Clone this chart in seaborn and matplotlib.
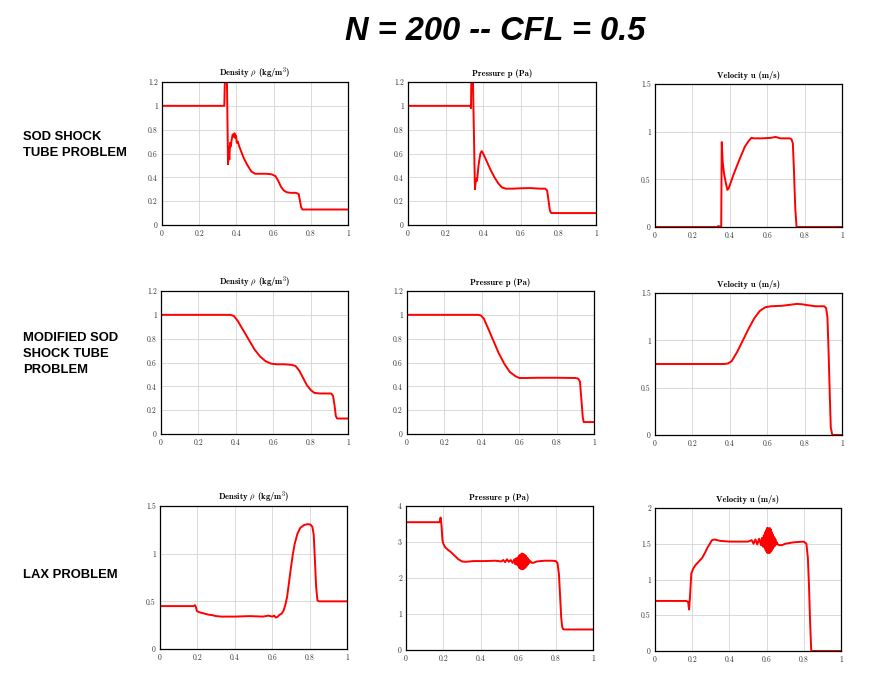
import matplotlib

matplotlib.use("Agg")
import matplotlib.pyplot as plt
import seaborn as sns

# ---- data (x in [0,1]) ----

# SOD shock tube
sod_rho_x = [0, 0.335, 0.340, 0.348, 0.355, 0.358, 0.362, 0.366, 0.370, 0.375, 0.380, 0.385, 0.390,
             0.394, 0.398, 0.402, 0.408, 0.415, 0.425, 0.44, 0.46, 0.48, 0.50, 0.52, 0.56, 0.59,
             0.61, 0.625, 0.64, 0.655, 0.67, 0.69, 0.72, 0.735, 0.742, 0.748, 0.755, 0.77, 1.0]
sod_rho_y = [1.0, 1.0, 1.35, 1.35, 0.51, 0.65, 0.55, 0.69, 0.66, 0.72, 0.76, 0.74, 0.77,
             0.73, 0.75, 0.69, 0.70, 0.66, 0.62, 0.56, 0.50, 0.45, 0.43, 0.43, 0.43, 0.425,
             0.41, 0.37, 0.32, 0.29, 0.275, 0.27, 0.27, 0.26, 0.20, 0.15, 0.13, 0.13, 0.13]

sod_p_x = [0, 0.332, 0.335, 0.338, 0.344, 0.356, 0.362, 0.367, 0.375, 0.385, 0.392, 0.40, 0.42,
           0.44, 0.46, 0.48, 0.50, 0.52, 0.56, 0.60, 0.65, 0.70, 0.73, 0.74, 0.748, 0.755, 0.762,
           0.78, 1.0]
sod_p_y = [1.0, 1.0, 0.98, 1.35, 1.35, 0.30, 0.39, 0.37, 0.50, 0.60, 0.62, 0.60, 0.53,
           0.46, 0.40, 0.35, 0.315, 0.305, 0.305, 0.308, 0.31, 0.305, 0.305, 0.29, 0.20, 0.12, 0.10,
           0.10, 0.10]

sod_u_x = [0, 0.33, 0.34, 0.35, 0.354, 0.357, 0.362, 0.37, 0.38, 0.387, 0.393, 0.42, 0.45, 0.48,
           0.50, 0.515, 0.53, 0.57, 0.62, 0.645, 0.67, 0.72, 0.73, 0.737, 0.743, 0.75, 0.757,
           0.765, 1.0]
sod_u_y = [0, 0, 0.01, 0.0, 0.0, 0.89, 0.68, 0.55, 0.45, 0.39, 0.40, 0.55, 0.70, 0.84,
           0.90, 0.935, 0.93, 0.93, 0.935, 0.945, 0.93, 0.93, 0.92, 0.88, 0.60, 0.20, 0.0,
           0.0, 0.0]

# modified SOD
msod_rho_x = [0, 0.37, 0.39, 0.41, 0.44, 0.47, 0.50, 0.53, 0.56, 0.59, 0.62, 0.66, 0.70, 0.72,
              0.74, 0.76, 0.78, 0.80, 0.82, 0.85, 0.89, 0.91, 0.92, 0.928, 0.935, 0.942, 0.95, 1.0]
msod_rho_y = [1.0, 1.0, 0.99, 0.95, 0.87, 0.79, 0.71, 0.65, 0.61, 0.59, 0.585, 0.585, 0.58, 0.57,
              0.53, 0.47, 0.41, 0.37, 0.345, 0.34, 0.34, 0.34, 0.32, 0.24, 0.15, 0.13, 0.13, 0.13]

msod_p_x = [0, 0.38, 0.395, 0.41, 0.43, 0.46, 0.49, 0.52, 0.55, 0.58, 0.60, 0.63, 0.70, 0.80,
            0.90, 0.915, 0.925, 0.932, 0.94, 0.945, 0.955, 1.0]
msod_p_y = [1.0, 1.0, 0.995, 0.97, 0.90, 0.79, 0.68, 0.59, 0.52, 0.485, 0.47, 0.47, 0.472, 0.472,
            0.47, 0.465, 0.44, 0.30, 0.14, 0.10, 0.10, 0.10]

msod_u_x = [0, 0.37, 0.39, 0.41, 0.44, 0.47, 0.50, 0.53, 0.56, 0.59, 0.62, 0.68, 0.72, 0.76,
            0.79, 0.82, 0.86, 0.905, 0.915, 0.922, 0.928, 0.935, 0.94, 0.948, 1.0]
msod_u_y = [0.75, 0.75, 0.755, 0.78, 0.88, 1.0, 1.12, 1.23, 1.31, 1.35, 1.36, 1.365, 1.375, 1.385,
            1.38, 1.37, 1.36, 1.36, 1.34, 1.25, 0.90, 0.40, 0.08, 0.0, 0.0]

# LAX
lax_rho_x = [0, 0.18, 0.187, 0.192, 0.197, 0.205, 0.22, 0.24, 0.26, 0.28, 0.30, 0.33, 0.40, 0.48,
             0.55, 0.58, 0.60, 0.61, 0.62, 0.63, 0.64, 0.65, 0.66, 0.67, 0.68, 0.69, 0.70, 0.71,
             0.72, 0.735, 0.75, 0.77, 0.79, 0.805, 0.815, 0.822, 0.828, 0.835, 0.842, 0.85, 1.0]
lax_rho_y = [0.45, 0.45, 0.46, 0.44, 0.40, 0.39, 0.38, 0.37, 0.36, 0.355, 0.345, 0.34, 0.34, 0.345,
             0.34, 0.35, 0.34, 0.35, 0.33, 0.34, 0.36, 0.37, 0.40, 0.46, 0.55, 0.70, 0.85, 0.99,
             1.10, 1.21, 1.27, 1.30, 1.31, 1.305, 1.28, 1.20, 0.95, 0.65, 0.51, 0.50, 0.50]

lax_p_x = [0, 0.175, 0.18, 0.185, 0.19, 0.195, 0.20, 0.21, 0.225, 0.24, 0.26, 0.28, 0.30, 0.32,
           0.36, 0.42, 0.48, 0.51, 0.52, 0.53, 0.54, 0.55, 0.56, 0.57, 0.58, 0.585, 0.59, 0.595,
           0.60, 0.6025, 0.605, 0.6075, 0.61, 0.6125, 0.615, 0.6175, 0.62, 0.6225, 0.625, 0.6275,
           0.63, 0.6325, 0.635, 0.6375, 0.64, 0.6425, 0.645, 0.6475, 0.65, 0.6525, 0.655, 0.66,
           0.665, 0.67, 0.68, 0.70, 0.74, 0.78, 0.80, 0.81, 0.818, 0.825, 0.83, 0.835, 0.84, 0.85,
           1.0]
lax_p_y = [3.55, 3.55, 3.55, 3.68, 3.45, 3.05, 2.95, 2.85, 2.78, 2.72, 2.62, 2.52, 2.46, 2.45,
           2.47, 2.47, 2.48, 2.46, 2.50, 2.44, 2.52, 2.45, 2.50, 2.42, 2.52, 2.38, 2.55, 2.36,
           2.58, 2.32, 2.62, 2.28, 2.64, 2.26, 2.66, 2.25, 2.68, 2.24, 2.67, 2.25, 2.66, 2.27,
           2.64, 2.29, 2.62, 2.32, 2.58, 2.35, 2.55, 2.38, 2.52, 2.42, 2.47, 2.43, 2.42, 2.46,
           2.48, 2.48, 2.47, 2.42, 2.10, 1.40, 0.90, 0.65, 0.58, 0.57, 0.57]

lax_u_x = [0, 0.165, 0.178, 0.183, 0.188, 0.195, 0.205, 0.217, 0.235, 0.253, 0.27, 0.283, 0.295,
           0.306, 0.319, 0.35, 0.40, 0.46, 0.50, 0.52, 0.53, 0.54, 0.55, 0.56, 0.57, 0.575, 0.58,
           0.585, 0.59, 0.5925, 0.595, 0.5975, 0.60, 0.6025, 0.605, 0.6075, 0.61, 0.6125, 0.615,
           0.6175, 0.62, 0.6225, 0.625, 0.6275, 0.63, 0.6325, 0.635, 0.6375, 0.64, 0.6425, 0.645,
           0.6475, 0.65, 0.655, 0.66, 0.67, 0.683, 0.70, 0.745, 0.80, 0.814, 0.822, 0.828, 0.834,
           0.84, 0.85, 1.0]
lax_u_y = [0.70, 0.70, 0.69, 0.58, 0.75, 1.08, 1.15, 1.20, 1.25, 1.30, 1.38, 1.45, 1.50,
           1.55, 1.56, 1.54, 1.53, 1.53, 1.53, 1.55, 1.50, 1.56, 1.49, 1.57, 1.48, 1.58, 1.46,
           1.62, 1.44, 1.66, 1.41, 1.69, 1.39, 1.72, 1.37, 1.72, 1.38, 1.70, 1.37, 1.72, 1.38,
           1.70, 1.40, 1.66, 1.42, 1.63, 1.44, 1.60, 1.46, 1.58, 1.47, 1.56, 1.49, 1.52, 1.49,
           1.48, 1.48, 1.50, 1.52, 1.53, 1.50, 1.30, 0.90, 0.40, 0.0, 0.0, 0.0]

row_labels = ["SOD SHOCK\nTUBE PROBLEM", "MODIFIED SOD\nSHOCK TUBE\nPROBLEM", "LAX PROBLEM"]
col_titles = [r"Density $\rho$ (kg/m$^3$)", "Pressure p (Pa)", "Velocity u (m/s)"]
fig_title = "N = 200 -- CFL = 0.5"

x_ticks = [0, 0.2, 0.4, 0.6, 0.8, 1.0]
x_ticklabels = ["0", "0.2", "0.4", "0.6", "0.8", "1"]
ticks_12 = [0, 0.2, 0.4, 0.6, 0.8, 1.0, 1.2]
ticklabels_12 = ["0", "0.2", "0.4", "0.6", "0.8", "1", "1.2"]
ticks_15 = [0, 0.5, 1.0, 1.5]
ticklabels_15 = ["0", "0.5", "1", "1.5"]
ticks_4 = [0, 1, 2, 3, 4]
ticklabels_4 = ["0", "1", "2", "3", "4"]
ticks_2 = [0, 0.5, 1.0, 1.5, 2.0]
ticklabels_2 = ["0", "0.5", "1", "1.5", "2"]

curves = [
    [(sod_rho_x, sod_rho_y, ticks_12, ticklabels_12),
     (sod_p_x, sod_p_y, ticks_12, ticklabels_12),
     (sod_u_x, sod_u_y, ticks_15, ticklabels_15)],
    [(msod_rho_x, msod_rho_y, ticks_12, ticklabels_12),
     (msod_p_x, msod_p_y, ticks_12, ticklabels_12),
     (msod_u_x, msod_u_y, ticks_15, ticklabels_15)],
    [(lax_rho_x, lax_rho_y, ticks_15, ticklabels_15),
     (lax_p_x, lax_p_y, ticks_4, ticklabels_4),
     (lax_u_x, lax_u_y, ticks_2, ticklabels_2)],
]

# axes boxes in pixels (left, top, right, bottom)
boxes = [
    [(162, 82, 348, 225), (408, 82, 596, 225), (655, 84, 842, 227)],
    [(161, 291, 348, 434), (407, 291, 594, 434), (655, 293, 842, 435)],
    [(160, 506, 347, 649), (406, 506, 593, 650), (655, 508, 841, 651)],
]
label_y = [145, 354, 575]

sns.set_theme(style="whitegrid")
plt.rcParams["font.family"] = "serif"
plt.rcParams["font.serif"] = ["cmr10"]
plt.rcParams["mathtext.fontset"] = "cm"
plt.rcParams["axes.formatter.use_mathtext"] = True
plt.rcParams["text.color"] = "black"

W, H = 869, 681
fig = plt.figure(figsize=(W / 100, H / 100), dpi=100)
fig.patch.set_facecolor("white")

for r in range(3):
    for c in range(3):
        l, t, rr, b = boxes[r][c]
        ax = fig.add_axes([l / W, 1 - b / H, (rr - l) / W, (b - t) / H])
        xs, ys, yt, ytl = curves[r][c]
        sns.lineplot(x=xs, y=ys, ax=ax, color="#ff0000", linewidth=1.4,
                     sort=False, estimator=None)
        ax.set_xlim(0, 1)
        ax.set_ylim(yt[0], yt[-1])
        ax.set_xticks(x_ticks)
        ax.set_xticklabels(x_ticklabels)
        ax.set_yticks(yt)
        ax.set_yticklabels(ytl)
        ax.tick_params(length=0, labelsize=5.5, pad=3, colors="#333333")
        ax.grid(True, color="#d4d4d4", linewidth=0.6)
        ax.set_facecolor("white")
        for sp in ax.spines.values():
            sp.set_color("black")
            sp.set_linewidth(0.9)
        ax.set_title(col_titles[c], fontsize=6.2, fontfamily="cmb10", pad=4, color="black")
        ax.set_xlabel("")
        ax.set_ylabel("")

for r in range(3):
    fig.text(23 / W, 1 - label_y[r] / H, row_labels[r], family="Liberation Sans",
             fontweight="bold", fontsize=9.4, ha="left", va="center", linespacing=1.45,
             color="black")

fig.text(495 / W, 1 - 32 / H, fig_title, family="Liberation Sans", fontweight="bold",
         fontstyle="italic", fontsize=23.5, ha="center", va="center", color="black")

fig.savefig("out.png", dpi=100, facecolor="white")
